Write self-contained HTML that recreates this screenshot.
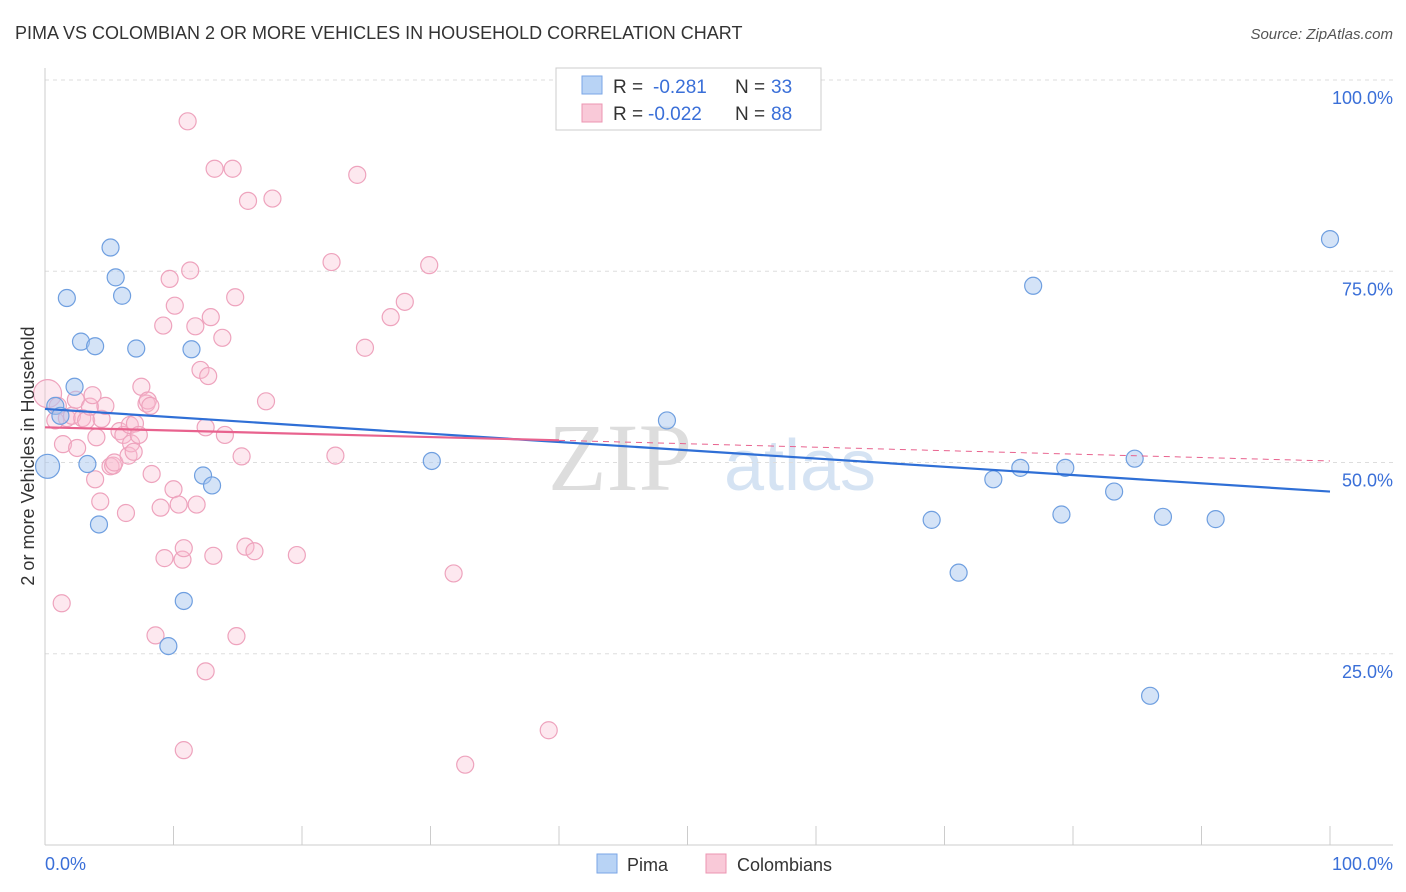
<!DOCTYPE html>
<html><head><meta charset="utf-8"><style>
body{margin:0;background:#fff;font-family:"Liberation Sans",sans-serif;}
svg{display:block}
</style></head><body>
<svg id="c" width="1406" height="892">
<text x="15" y="39" font-size="18" fill="#333">PIMA VS COLOMBIAN 2 OR MORE VEHICLES IN HOUSEHOLD CORRELATION CHART</text>
<text x="1393" y="39" font-size="15" fill="#555" font-style="italic" text-anchor="end">Source: ZipAtlas.com</text>
<text x="620" y="490" font-size="96" fill="#ddd" font-family="Liberation Serif,serif" text-anchor="middle">ZIP</text>
<text x="800" y="490" font-size="72" fill="#d5e3f3" text-anchor="middle">atlas</text>
<g id="grid"></g><g id="axes"></g><g id="pts"></g><g id="lines"></g>
<text transform="translate(34,456) rotate(-90)" font-size="18" fill="#333" text-anchor="middle">2 or more Vehicles in Household</text>
<text x="45" y="870" font-size="18" fill="#3a6fd8">0.0%</text>
<text x="1393" y="870" font-size="18" fill="#3a6fd8" text-anchor="end">100.0%</text>
<g>
<rect x="556" y="68" width="265" height="62" fill="#fff" stroke="#ccc"/>
<rect x="582" y="76" width="20" height="18" fill="#b8d3f5" stroke="#7aa6e6"/>
<rect x="582" y="104" width="20" height="18" fill="#f9c9d8" stroke="#ec95b2"/>
<text x="613" y="93" font-size="19" fill="#333">R =</text>
<text x="653" y="93" font-size="19" fill="#3a6fd8">-0.281</text>
<text x="735" y="93" font-size="19" fill="#333">N =</text>
<text x="771" y="93" font-size="19" fill="#3a6fd8">33</text>
<text x="613" y="120" font-size="19" fill="#333">R =</text>
<text x="648" y="120" font-size="19" fill="#3a6fd8">-0.022</text>
<text x="735" y="120" font-size="19" fill="#333">N =</text>
<text x="771" y="120" font-size="19" fill="#3a6fd8">88</text>
</g>
<g>
<rect x="597" y="854" width="20" height="19" fill="#b8d3f5" stroke="#7aa6e6"/>
<text x="627" y="871" font-size="18" fill="#333">Pima</text>
<rect x="706" y="854" width="20" height="19" fill="#f9c9d8" stroke="#ec95b2"/>
<text x="737" y="871" font-size="18" fill="#333">Colombians</text>
</g>
</svg>
<script>
const yTicks=[25,50,75,100];
const yTickLabels=["25.0%","50.0%","75.0%","100.0%"];
const pimaX=[0.2,0.8,1.2,1.7,2.3,2.8,3.3,3.9,4.2,5.1,5.5,6.0,7.1,9.6,10.8,11.4,12.3,13.0,30.1,48.4,69.0,71.1,73.8,75.9,76.9,79.1,79.4,83.2,84.8,86.0,87.0,91.1,100.0];
const pimaY=[49.5,57.4,56.1,71.5,59.9,65.8,49.8,65.2,41.9,78.1,74.2,71.8,64.9,26.0,31.9,64.8,48.3,47.0,50.2,55.5,42.5,35.6,47.8,49.3,73.1,43.2,49.3,46.2,50.5,19.5,42.9,42.6,79.2];
const colX=[0.2,0.8,1.0,1.3,1.4,1.7,2.1,2.4,2.5,2.9,3.2,3.5,3.7,3.9,4.0,4.3,4.4,4.7,5.1,5.3,5.4,5.8,6.1,6.3,6.5,6.6,6.7,6.9,7.0,7.3,7.5,7.9,8.0,8.2,8.3,8.6,9.0,9.2,9.3,9.7,10.0,10.1,10.4,10.7,10.8,10.8,11.1,11.3,11.7,11.8,12.1,12.5,12.5,12.7,12.9,13.1,13.2,13.8,14.0,14.6,14.8,14.9,15.3,15.6,15.8,16.3,17.2,17.7,19.6,22.3,22.6,24.3,24.9,26.9,28.0,29.9,31.8,32.7,39.2];
const colY=[59.0,55.5,57.4,31.6,52.4,55.8,56.1,58.2,51.9,55.8,55.5,57.3,58.8,47.8,53.3,44.9,55.7,57.4,49.5,49.6,50.0,54.1,53.6,43.4,50.9,54.9,52.5,51.4,55.1,53.6,59.9,57.7,58.1,57.4,48.5,27.4,44.1,67.9,37.5,74.0,46.5,70.5,44.5,37.3,38.8,12.4,94.6,75.1,67.8,44.5,62.1,22.7,54.6,61.3,69.0,37.8,88.4,66.3,53.6,88.4,71.6,27.3,50.8,39.0,84.2,38.4,58.0,84.5,37.9,76.2,50.9,87.6,65.0,69.0,71.0,75.8,35.5,10.5,15.0];
const X0=45,X1=1330,Y0=845,Y1=80;
const xs=v=>X0+(X1-X0)*v/100, ys=v=>Y0-(Y0-Y1)*v/100;
const NS="http://www.w3.org/2000/svg";
function mk(t,a,p){const e=document.createElementNS(NS,t);for(const k in a)e.setAttribute(k,a[k]);document.getElementById(p).appendChild(e);return e;}
yTicks.forEach((t,i)=>{
 const g=mk('line',{x1:45,x2:1393,y1:ys(t),y2:ys(t),stroke:'#ddd','stroke-dasharray':'4,4'},'grid');
 
 
 const l=mk('text',{x:1393,y:ys(t)+24,'font-size':18,fill:'#3a6fd8','text-anchor':'end'},'grid');
 l.textContent=yTickLabels[i];
 
 
});
let a=mk('line',{x1:45,x2:45,y1:68,y2:845,stroke:'#ccc'},'axes');


a=mk('line',{x1:45,x2:1393,y1:845,y2:845,stroke:'#ccc'},'axes');


for(let i=1;i<=10;i++){
 const t=mk('line',{x1:xs(i*10),x2:xs(i*10),y1:826,y2:845,stroke:'#ccc'},'axes');
 
 
}
colX.forEach((x,i)=>{
 const c=mk('circle',{cx:xs(x),cy:ys(colY[i]),r:i==0?14:8.5,fill:'rgba(249,190,210,0.35)',stroke:'#eea3bd','stroke-width':1.2},'pts');
 
 
});
pimaX.forEach((x,i)=>{
 const c=mk('circle',{cx:xs(x),cy:ys(pimaY[i]),r:i==0?12:8.5,fill:'rgba(170,200,240,0.5)',stroke:'#6f9fe0','stroke-width':1.2},'pts');
 
 
});
let t=mk('line',{x1:xs(0),y1:ys(57.0),x2:xs(100),y2:ys(46.2),stroke:'#2f6fd6','stroke-width':2.2},'lines');


t=mk('line',{x1:xs(0),y1:ys(54.6),x2:xs(40),y2:ys(52.9),stroke:'#e8628e','stroke-width':2.2},'lines');


t=mk('line',{x1:xs(40),y1:ys(52.9),x2:xs(100),y2:ys(50.2),stroke:'#e8628e','stroke-width':1,'stroke-dasharray':'6,5'},'lines');


</script>
</body></html>
